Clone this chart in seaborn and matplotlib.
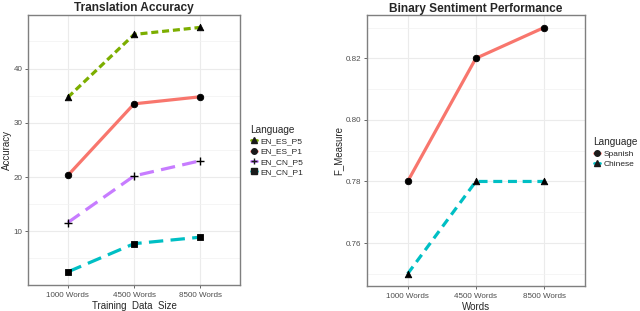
import matplotlib
matplotlib.use('Agg')
from matplotlib import pyplot as plt
from matplotlib.lines import Line2D
from matplotlib.ticker import MultipleLocator
import seaborn as sns
import pandas as pd

words = ["1000 Words", "4500 Words", "8500 Words"]

# Translation accuracy
trans_series = ["EN_ES_P5", "EN_ES_P1", "EN_CN_P5", "EN_CN_P1"]
en_es_p5 = [34.7, 46.3, 47.6]
en_es_p1 = [20.3, 33.5, 34.8]
en_cn_p5 = [11.6, 20.2, 23.0]
en_cn_p1 = [2.5, 7.7, 8.9]

# Binary sentiment
sent_series = ["Spanish", "Chinese"]
spanish = [0.78, 0.82, 0.83]
chinese = [0.75, 0.78, 0.78]

sns.set_theme(style="whitegrid")
plt.rcParams['font.family'] = ['Liberation Sans', 'DejaVu Sans']

trans_df = pd.DataFrame({
    "words": words * 4,
    "value": en_es_p5 + en_es_p1 + en_cn_p5 + en_cn_p1,
    "lang": [s for s in trans_series for _ in words],
})
sent_df = pd.DataFrame({
    "words": words * 2,
    "value": spanish + chinese,
    "lang": [s for s in sent_series for _ in words],
})

trans_colors = {"EN_ES_P5": "#7CAE00", "EN_ES_P1": "#F8766D",
                "EN_CN_P5": "#C77CFF", "EN_CN_P1": "#00BFC4"}
trans_dashes = {"EN_ES_P5": (2.2, 1.2), "EN_ES_P1": "",
                "EN_CN_P5": (4.5, 2.3), "EN_CN_P1": (4.5, 2.3)}
trans_markers = {"EN_ES_P5": "^", "EN_ES_P1": "o", "EN_CN_P5": "+", "EN_CN_P1": "s"}

sent_colors = {"Spanish": "#F8766D", "Chinese": "#00BFC4"}
sent_dashes = {"Spanish": "", "Chinese": (2.8, 1.8)}
sent_markers = {"Spanish": "o", "Chinese": "^"}

fig = plt.figure(figsize=(6.4, 3.11), dpi=100)
ax1 = fig.add_axes([0.044, 0.084, 0.331, 0.868])
ax2 = fig.add_axes([0.573, 0.080, 0.341, 0.871])


def draw(ax, df, colors, dashes, markers, title, xlabel, ylabel):
    sns.lineplot(data=df, x="words", y="value", hue="lang", style="lang",
                 palette=colors, dashes=dashes, linewidth=2.3, ax=ax, legend=False)
    for k, sub in df.groupby("lang", sort=False):
        m = markers[k]
        if m == "+":
            sns.scatterplot(data=sub, x="words", y="value", marker=m, color="black",
                            linewidth=1.0, s=40, ax=ax, legend=False, zorder=5)
        else:
            sns.scatterplot(data=sub, x="words", y="value", marker=m, color="black",
                            edgecolor="black", linewidth=0.6, s=22, ax=ax,
                            legend=False, zorder=5)
    ax.set_xlim(-0.6, 2.6)
    ax.set_title(title, fontsize=8.6, fontweight="bold", pad=2.5)
    ax.set_xlabel(xlabel, fontsize=7, labelpad=1.5)
    ax.set_ylabel(ylabel, fontsize=7, labelpad=1.5)
    ax.tick_params(axis="both", labelsize=5.8, colors="#4D4D4D", length=2.5,
                   width=0.6, pad=2.5, left=True, bottom=True)
    ax.tick_params(axis="y", pad=1.5)
    ax.tick_params(axis="both", which="minor", length=0)
    ax.grid(True, which="major", color="#EBEBEB", lw=0.8)
    ax.grid(True, which="minor", axis="y", color="#F2F2F2", lw=0.5)
    for sp in ax.spines.values():
        sp.set_color("#7F7F7F")
        sp.set_linewidth(1.0)
    handles = [Line2D([], [], color=colors[k], lw=2, linestyle="-",
                      marker=markers[k], markerfacecolor="k", markeredgecolor="k",
                      markersize=4, markeredgewidth=1)
               for k in colors]
    return handles


h1 = draw(ax1, trans_df, trans_colors, trans_dashes, trans_markers,
          "Translation Accuracy", "Training  Data  Size", "Accuracy")
ax1.set_ylim(0.1, 49.9)
ax1.set_yticks([10, 20, 30, 40])
ax1.yaxis.set_minor_locator(MultipleLocator(5))
leg1 = fig.legend(h1, trans_series, title="Language", loc="upper left",
                  bbox_to_anchor=(0.385, 0.612), frameon=False, fontsize=6,
                  title_fontsize=7.2, handlelength=0.8, handletextpad=0.4,
                  labelspacing=0.3, borderpad=0)
leg1._legend_box.align = "left"

h2 = draw(ax2, sent_df, sent_colors, sent_dashes, sent_markers,
          "Binary Sentiment Performance", "Words", "F_Measure")
ax2.set_ylim(0.746, 0.834)
ax2.set_yticks([0.76, 0.78, 0.80, 0.82])
ax2.yaxis.set_minor_locator(MultipleLocator(0.01))
leg2 = fig.legend(h2, sent_series, title="Language", loc="upper left",
                  bbox_to_anchor=(0.921, 0.572), frameon=False, fontsize=6,
                  title_fontsize=7.2, handlelength=0.8, handletextpad=0.4,
                  labelspacing=0.3, borderpad=0)
leg2._legend_box.align = "left"

fig.savefig("out.png", dpi=100)
